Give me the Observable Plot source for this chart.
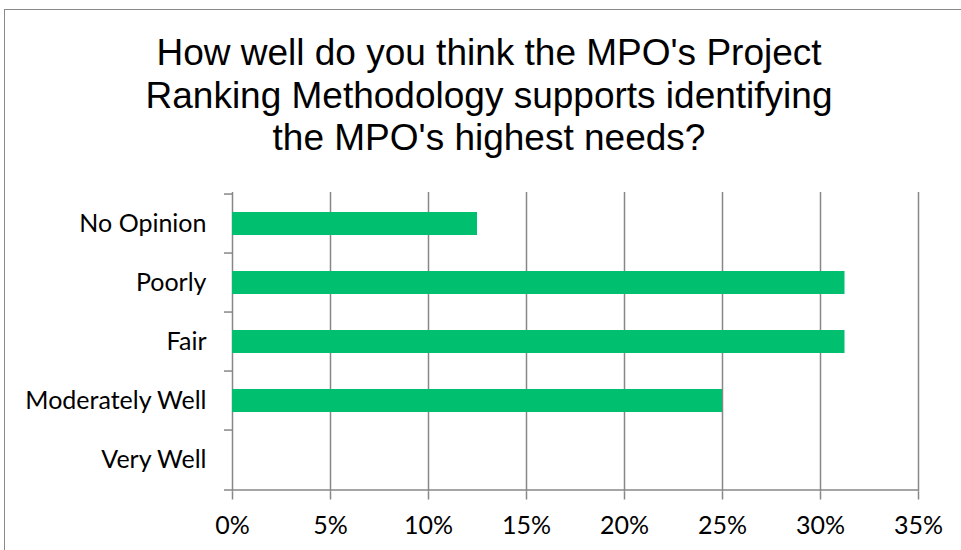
<!DOCTYPE html>
<html>
<head>
<meta charset="utf-8">
<script src="https://cdn.jsdelivr.net/npm/d3@7"></script>
<script src="https://cdn.jsdelivr.net/npm/@observablehq/plot@0.6"></script>
<style>
  html, body { margin: 0; padding: 0; background: #fff; overflow: hidden; }
  #wrap { position: relative; width: 961px; height: 550px; overflow: hidden; }
  #border { position: absolute; left: 4px; top: 9px; width: 1000px; height: 600px;
            border-left: 1.5px solid #898989; border-top: 1.5px solid #898989; }
  #title { position: absolute; left: 0; top: 32px; width: 978px; text-align: center;
           font-family: "Liberation Sans", Arial, sans-serif; font-size: 37px; line-height: 42.5px; color: #000; }
  #chart { position: absolute; left: 0; top: 175px; }
</style>
</head>
<body>
<div id="wrap">
  <div id="border"></div>
  <div id="title">How well do you think the MPO's Project<br>Ranking Methodology supports identifying<br>the MPO's highest needs?</div>
  <div id="chart"></div>
</div>
<script>
const categories = ["No Opinion", "Poorly", "Fair", "Moderately Well", "Very Well"];
const values = [0.125, 0.3125, 0.3125, 0.25, 0];
const xTicks = [0, 0.05, 0.10, 0.15, 0.20, 0.25, 0.30, 0.35];

const data = categories.map((c, i) => ({label: c, value: values[i]}));

const W = 961, H = 375, mTop = 17, mBottom = 58.5, mLeft = 232, mRight = 43;
const step = (H - mTop - mBottom) / categories.length;
const gray = "#878787";
const green = "#00BF6F";

const chart = Plot.plot({
  width: W,
  height: H,
  marginTop: mTop,
  marginBottom: mBottom,
  marginLeft: mLeft,
  marginRight: mRight,
  style: {fontFamily: "Lato, 'Open Sans', sans-serif", fontSize: "25px", color: "#000", background: "transparent"},
  x: {domain: [0, 0.35], ticks: xTicks, tickFormat: d3.format(".0%")},
  y: {domain: categories, paddingInner: 0.617, paddingOuter: 0.3085},
  marks: [
    Plot.gridX(xTicks, {stroke: gray, strokeOpacity: 1, strokeWidth: 1.5}),
    Plot.barX(data, {x: "value", y: "label", fill: green}),
    Plot.ruleY(categories, {y: d => d, x1: 0, x2: 0, insetLeft: -8, dy: -step / 2, stroke: gray, strokeWidth: 1.5}),
    Plot.ruleY(categories.slice(-1), {y: d => d, insetLeft: -8, dy: step / 2, stroke: gray, strokeWidth: 1.5}),
    Plot.axisX({ticks: xTicks, tickFormat: d3.format(".0%"), tickSize: 8, tickPadding: 16, stroke: gray, strokeWidth: 1.5, fill: "#000", label: null, fontSize: 25}),
    Plot.axisY({tickSize: 0, tickPadding: 26, fill: "#000", label: null, fontSize: 25})
  ]
});
document.getElementById("chart").appendChild(chart);
</script>
</body>
</html>
